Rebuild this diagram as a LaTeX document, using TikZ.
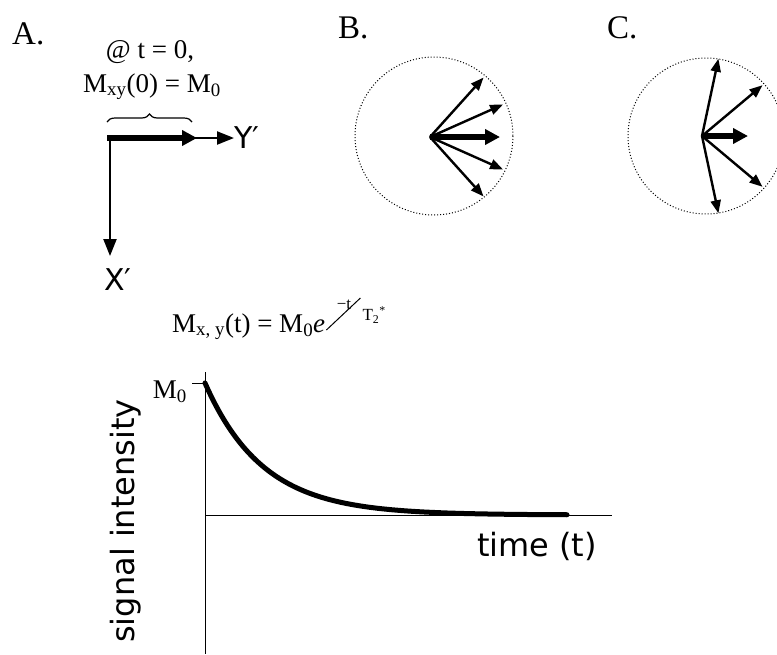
\documentclass[tikz,border=0pt]{standalone}
\usepackage{fontspec}
\setmainfont{Liberation Serif}
\newfontfamily\sanslbl{DejaVu Sans}
\usetikzlibrary{arrows.meta,positioning,decorations.pathreplacing}

\begin{document}
\begin{tikzpicture}[x=1pt,y=-1pt,
  vec/.style={line width=2.4pt,-{Triangle[length=13pt,width=10pt]}},
  axvec/.style={line width=2.2pt,-{Triangle[length=17pt,width=13pt]}},
  bigvec/.style={line width=5.5pt,-{Triangle[length=15pt,width=15pt]}},
  ring/.style={dotted,line width=1pt},
  panel/.style={font=\fontsize{33}{35}\selectfont,anchor=base west,inner sep=0pt},
  txt/.style={font=\fontsize{27}{29}\selectfont,inner sep=0pt},
  expo/.style={font=\fontsize{17}{18}\selectfont,inner sep=0pt},
  axlbl/.style={font=\sanslbl\fontsize{32}{34}\selectfont,inner sep=0pt}]
  \useasboundingbox (0,0) rectangle (777,654);
  % panel A: all spins along Y' at t = 0
  \node[panel] (la) at (12,44) {A.};
  \node[txt,anchor=base] (t0) at (150,58) {@ t = 0,};
  \node[txt,anchor=base] (mxy) at (152,92) {M\textsubscript{xy}(0) = M\textsubscript{0}};
  \draw[decorate,decoration={brace,amplitude=8pt},line width=1.2pt] (107,122) -- (192,122);
  \coordinate (o) at (110,138);
  \coordinate (tipA) at (197,138);
  \coordinate (down) at (110,256);
  \node[axlbl,anchor=west,font=\sanslbl\fontsize{30}{32}\selectfont] (yp) at (234,138) {Y′};
  \node[axlbl,anchor=north,font=\sanslbl\fontsize{30}{32}\selectfont] (xp) at (118,268) {X′};
  \draw[axvec] (o) -- (yp.west);
  \draw[axvec] (110,135) -- (down);
  \draw[bigvec] (107,138) -- (tipA);
  % panel B: spins starting to fan out
  \node[panel] (lb) at (338,38) {B.};
  \coordinate (oB) at (430,137);
  \draw[ring] (434,136) circle[radius=79];
  \foreach \a in {-48,-24,24,48}
    \draw[vec] (oB) -- ++(\a:80);
  \draw[bigvec] (oB) -- ++(0:70);
  % panel C: spins fanned out further
  \node[panel] (lc) at (607,38) {C.};
  \coordinate (oC) at (702,136);
  \draw[ring] (706,136) circle[radius=78];
  \foreach \a in {-78,-40,40,78}
    \draw[vec] (oC) -- ++(\a:79);
  \draw[bigvec] (oC) -- ++(0:46);
  % decay curve
  \node[txt,anchor=base west] (eq) at (172,332) {M\textsubscript{x, y}(t) = M\textsubscript{0}\textit{e}};
  \draw[line width=1pt] ([xshift=1pt,yshift=2pt]eq.base east) -- ++(34pt,32pt) coordinate (sl);
  \node[expo,anchor=east] (num) at ([xshift=-9pt,yshift=-7pt]sl) {−t};
  \node[expo,anchor=west] (den) at ([xshift=2pt,yshift=-17pt]sl) {T\textsubscript{2}\textsuperscript{*}};
  \draw[line width=1pt] (205,372) -- (205,654);
  \draw[line width=1pt] (205,515) -- (612,515);
  \draw[line width=1pt] (192,383) -- (205,383);
  \node[txt,anchor=base east] (m0) at (187,398) {M\textsubscript{0}};
  \draw[line width=5pt,line cap=round] plot[domain=205:567,samples=80,smooth] (\x,{515-132*exp(-(\x-205)/58)});
  \node[axlbl,rotate=90] (ylab) at (126,521) {signal intensity};
  \node[axlbl,anchor=base] (xlab) at (537,556) {time (t)};
\end{tikzpicture}
\end{document}
